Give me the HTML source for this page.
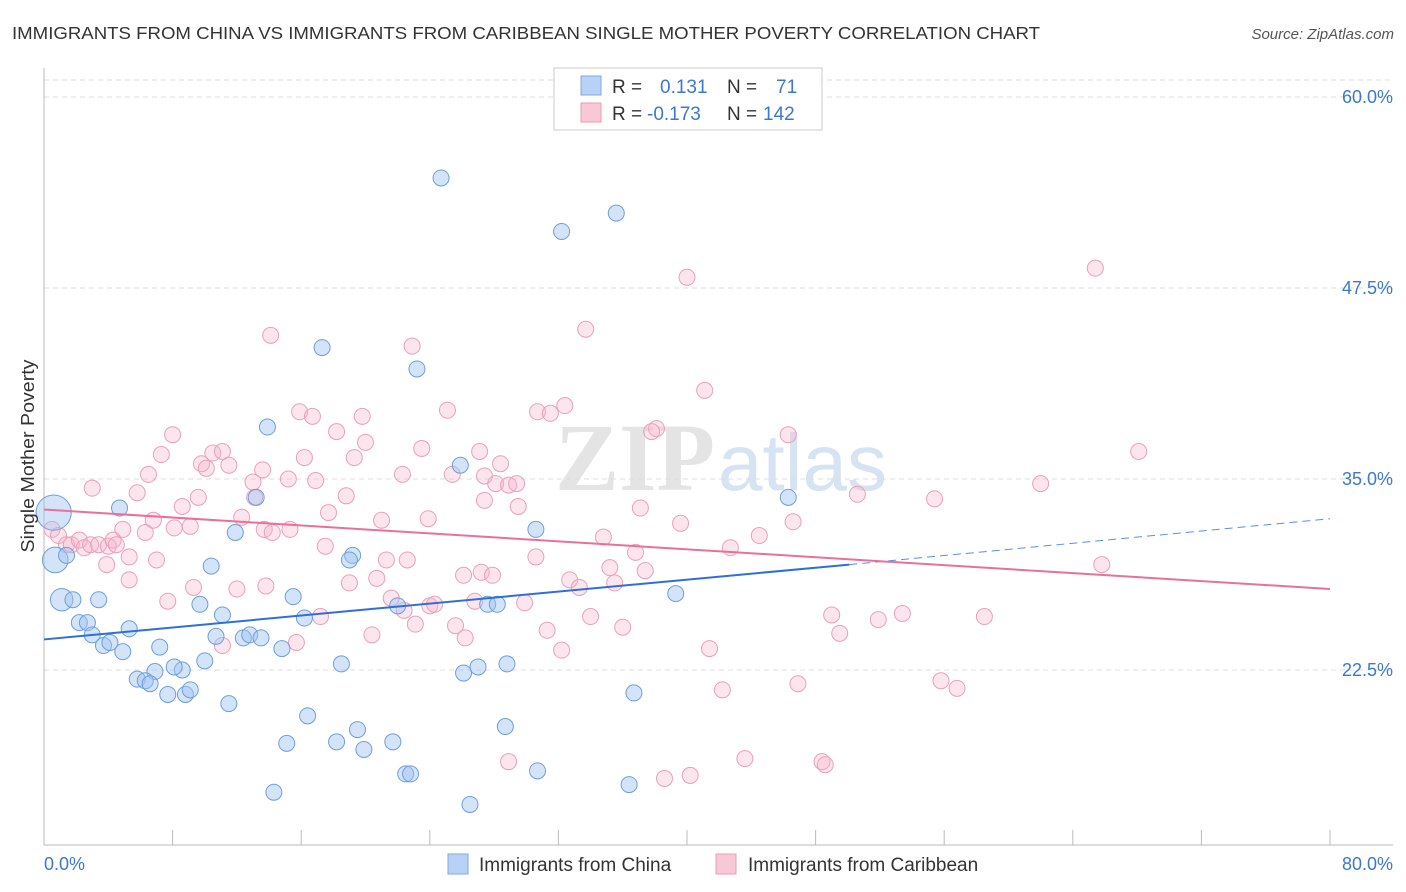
<!DOCTYPE html>
<html><head><meta charset="utf-8"><style>
body{margin:0;background:#fff;font-family:"Liberation Sans",sans-serif;}
svg{display:block}
</style></head><body>
<svg id="chart" width="1406" height="892" xmlns="http://www.w3.org/2000/svg" font-family="Liberation Sans, sans-serif">
<text x="12" y="39" font-size="17.5" fill="#333" textLength="1028" lengthAdjust="spacingAndGlyphs">IMMIGRANTS FROM CHINA VS IMMIGRANTS FROM CARIBBEAN SINGLE MOTHER POVERTY CORRELATION CHART</text>
<text x="1394" y="39" font-size="15" fill="#555" text-anchor="end" font-style="italic">Source: ZipAtlas.com</text>
<g>
<text x="555" y="490" font-size="96" fill="#e4e4e4" font-family="Liberation Serif, serif" font-weight="bold">ZIP</text>
<text x="718" y="490" font-size="80" fill="#d6e3f3">atlas</text>
</g>
<g id="grid"></g>
<g id="axes"></g>
<g id="pts"></g>
<g id="trends"></g>
<text transform="translate(34,456) rotate(-90)" font-size="18" fill="#333" text-anchor="middle" textLength="193" lengthAdjust="spacingAndGlyphs">Single Mother Poverty</text>
<g>
<rect x="554" y="68" width="268" height="62" fill="#fff" stroke="#ccc"/>
<rect x="581" y="76" width="20" height="19" fill="#b7d2f5" stroke="#7fa9df"/>
<rect x="581" y="103" width="20" height="19" fill="#f9c8d6" stroke="#ec9db6"/>
<text x="612" y="93" font-size="19" fill="#333">R = </text><text x="660" y="93" font-size="19" fill="#3b78d0">0.131</text>
<text x="727" y="93" font-size="19" fill="#333">N = </text><text x="776" y="93" font-size="19" fill="#3b78d0">71</text>
<text x="612" y="120" font-size="19" fill="#333">R = </text><text x="647" y="120" font-size="19" fill="#3b78d0">-0.173</text>
<text x="727" y="120" font-size="19" fill="#333">N = </text><text x="763" y="120" font-size="19" fill="#3b78d0">142</text>
</g>
<g>
<rect x="448" y="854" width="20" height="20" fill="#b7d2f5" stroke="#7fa9df"/>
<text x="479" y="871" font-size="19" fill="#333">Immigrants from China</text>
<rect x="716" y="854" width="20" height="20" fill="#f9c8d6" stroke="#ec9db6"/>
<text x="748" y="871" font-size="19" fill="#333">Immigrants from Caribbean</text>
</g>
</svg>
<script>
const yTicks=[60,47.5,35,22.5];
const yTickLabels=["60.0%","47.5%","35.0%","22.5%"];
const xTicks=[0,8,16,24,32,40,48,56,64,72,80];
const xEndLabels=["0.0%","80.0%"];
const chinaX=[24.7,35.6,32.2,17.3,23.2,13.9,25.9,13.2,4.7,11.9,30.6,46.3,0.6,0.7,1.4,1.1,1.8,3.4,10.4,19.2,19.0,15.5,9.7,11.1,16.2,22.0,27.6,28.2,2.2,2.7,5.3,3.0,3.7,4.1,4.9,7.2,10.7,12.4,12.8,13.5,14.8,10.0,8.6,6.9,8.1,5.8,6.3,6.6,7.7,8.8,9.1,11.5,18.5,26.1,27.0,28.8,39.3,36.7,16.4,28.7,19.5,15.1,18.2,19.9,21.7,22.5,22.8,30.7,14.3,36.4,26.5];
const chinaY=[54.7,52.4,51.2,43.6,42.2,38.4,35.9,33.8,33.1,31.5,31.7,33.8,32.8,29.7,30.0,27.1,27.1,27.1,29.3,30.0,29.7,27.3,26.8,26.1,25.9,26.7,26.8,26.8,25.6,25.6,25.2,24.8,24.1,24.3,23.7,24.0,24.7,24.6,24.8,24.6,23.9,23.1,22.5,22.4,22.7,21.9,21.8,21.6,20.9,20.9,21.2,20.3,22.9,22.3,22.7,22.9,27.5,21.0,19.5,18.8,18.6,17.7,17.8,17.3,17.8,15.7,15.7,15.9,14.5,15.0,13.7];
const chinaSize=[1,1,1,1,1,1,1,1,1,1,1,1,2.2,1.6,1,1.4,1,1,1,1,1,1,1,1,1,1,1,1,1,1,1,1,1,1,1,1,1,1,1,1,1,1,1,1,1,1,1,1,1,1,1,1,1,1,1,1,1,1,1,1,1,1,1,1,1,1,1,1,1,1,1];
const caribX=[65.4,40.0,33.7,14.1,22.9,41.1,25.1,15.9,16.7,19.8,30.7,31.5,32.4,38.1,37.8,46.3,8.0,68.1,18.2,20.0,23.5,27.1,7.3,16.2,10.5,11.1,9.8,10.1,11.5,13.6,19.3,22.3,28.4,6.5,13.0,15.2,16.9,25.4,27.4,28.1,28.9,29.4,3.0,5.8,9.6,13.1,18.8,27.4,62.0,50.6,55.4,8.6,17.7,23.9,21.0,29.5,37.1,6.8,8.1,9.1,13.7,12.3,4.9,6.3,39.6,46.6,0.5,0.9,1.4,1.7,2.2,2.5,2.9,3.4,4.0,4.3,4.5,5.3,3.9,7.0,14.2,15.3,17.5,21.3,22.6,30.6,34.8,36.8,42.7,44.5,65.8,5.3,9.3,12.0,19.0,20.7,13.8,26.1,27.2,27.9,32.7,33.3,35.2,35.5,37.4,7.7,21.6,22.4,24.0,24.3,26.8,29.9,17.2,23.1,25.6,34.0,36.0,31.3,32.2,41.4,49.0,49.5,51.9,53.4,58.5,20.4,26.2,11.1,15.7,42.2,46.9,55.8,56.8,28.9,43.6,48.4,48.6,38.6,40.2];
const caribY=[48.8,48.2,44.8,44.4,43.7,40.8,39.5,39.4,39.1,39.1,39.4,39.3,39.8,38.3,38.1,37.9,37.9,36.8,38.1,37.4,37.0,36.8,36.6,36.4,36.7,36.8,36.0,35.7,35.9,35.6,36.4,35.3,36.0,35.3,34.8,35.0,34.9,35.3,35.2,34.7,34.6,34.7,34.4,34.1,33.8,33.8,33.9,33.6,34.7,34.0,33.7,33.2,32.8,32.4,32.3,33.2,33.1,32.3,31.8,31.9,31.7,32.5,31.7,31.5,32.1,32.2,31.7,31.3,30.7,30.7,31.0,30.5,30.7,30.7,30.6,31.0,30.7,29.9,29.4,29.7,31.5,31.7,30.6,29.7,29.7,29.9,31.2,30.2,30.5,31.3,29.4,28.4,27.9,27.8,28.2,28.5,28.0,28.7,28.9,28.7,28.4,27.9,29.2,28.2,29.0,27.0,27.2,26.4,26.7,26.8,27.0,26.9,26.0,25.5,25.4,26.0,25.3,25.1,23.8,23.9,26.1,24.9,25.8,26.2,26.0,24.8,24.6,24.1,24.3,21.2,21.6,21.8,21.3,16.5,16.7,16.5,16.3,15.4,15.6];
const chinaTrend=[24.5,29.4,32.4];
const chinaTrendX=[0,50.1,80];
const caribTrend=[33.0,27.8];
const caribTrendX=[0,80];

const NS="http://www.w3.org/2000/svg";
const X0=44,X1=1330,YTOP=97,PXPER=15.28;
function xs(v){return X0+v*(X1-X0)/80;}
function ys(v){return YTOP+(60-v)*PXPER;}
function mk(tag,attrs,parent){const e=document.createElementNS(NS,tag);for(const k in attrs)e.setAttribute(k,attrs[k]);document.getElementById(parent).appendChild(e);return e;}

mk('line',{x1:X0,x2:1393,y1:80,y2:80,stroke:'#ddd','stroke-dasharray':'5,4'},'grid');
yTicks.forEach((t,i)=>{
 const g=mk('line',{x1:X0,x2:1393,y1:ys(t),y2:ys(t),stroke:'#ddd','stroke-dasharray':'5,4'},'grid');
 
 
 const l=mk('text',{x:1393,y:ys(t)+6,'font-size':18,fill:'#3b78d0','text-anchor':'end'},'axes');
 l.textContent=yTickLabels[i];
 
 
});
const ya=mk('line',{x1:X0,x2:X0,y1:68,y2:845,stroke:'#bbb'},'axes');


const xa=mk('line',{x1:X0,x2:1393,y1:845,y2:845,stroke:'#bbb'},'axes');


xTicks.forEach(t=>{
 const tk=mk('line',{x1:xs(t),x2:xs(t),y1:830,y2:845,stroke:'#bbb'},'axes');
 
 
});
const xl0=mk('text',{x:44,y:870,'font-size':18,fill:'#3b78d0'},'axes');xl0.textContent=xEndLabels[0];


const xl1=mk('text',{x:1393,y:870,'font-size':18,fill:'#3b78d0','text-anchor':'end'},'axes');xl1.textContent=xEndLabels[1];



caribX.forEach((v,i)=>{
 const c=mk('circle',{cx:xs(v),cy:ys(caribY[i]),r:8,fill:'rgba(246,180,202,0.35)',stroke:'#eba0b9','stroke-width':1},'pts');
 
 
});
chinaX.forEach((v,i)=>{
 const c=mk('circle',{cx:xs(v),cy:ys(chinaY[i]),r:8*chinaSize[i],fill:'rgba(160,196,240,0.45)',stroke:'#6c9fdc','stroke-width':1},'pts');
 
 
});
const bt=mk('line',{x1:xs(chinaTrendX[0]),y1:ys(chinaTrend[0]),x2:xs(chinaTrendX[1]),y2:ys(chinaTrend[1]),stroke:'#2f6fd6','stroke-width':2},'trends');


const bd=mk('line',{x1:xs(chinaTrendX[1]),y1:ys(chinaTrend[1]),x2:xs(chinaTrendX[2]),y2:ys(chinaTrend[2]),stroke:'#5b8fdc','stroke-width':1,'stroke-dasharray':'8,5'},'trends');


const pt=mk('line',{x1:xs(caribTrendX[0]),y1:ys(caribTrend[0]),x2:xs(caribTrendX[1]),y2:ys(caribTrend[1]),stroke:'#e8709a','stroke-width':2},'trends');


</script>
</body></html>
